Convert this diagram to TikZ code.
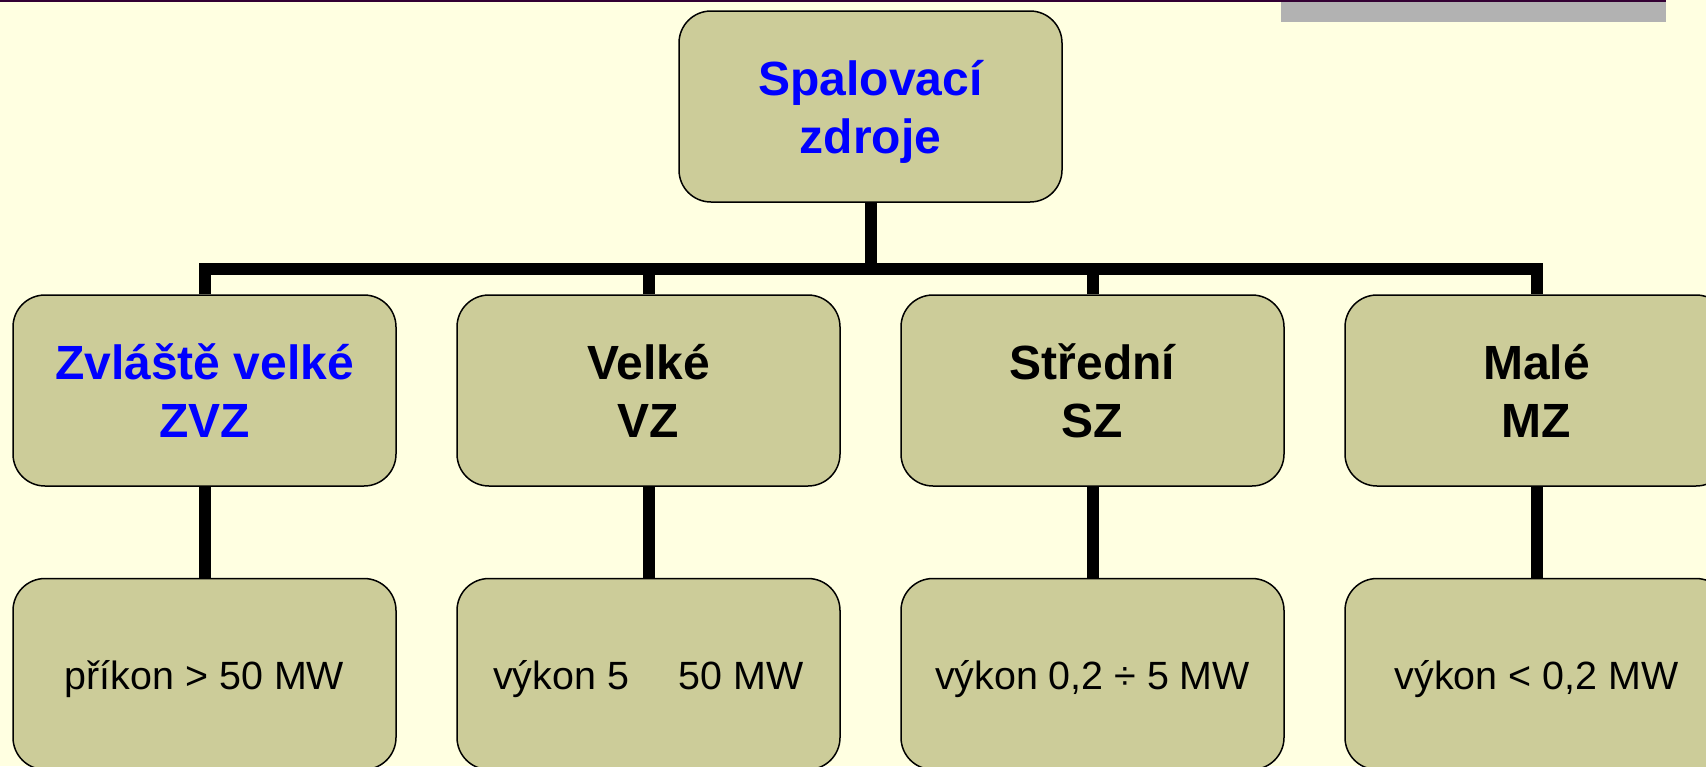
\documentclass[tikz,border=0pt]{standalone}
\usepackage{fontspec}
\setmainfont{Liberation Sans}
\definecolor{kback}{RGB}{255,255,225}
\definecolor{kfill}{RGB}{204,204,153}
\definecolor{kbar}{RGB}{51,0,51}
\definecolor{kgray}{RGB}{178,178,178}
\definecolor{kblue}{RGB}{0,0,255}
\tikzset{kbox/.style={draw=black,line width=0.75pt,fill=kfill,rounded corners=16pt,minimum width=191.5pt,minimum height=95.5pt,align=center,inner sep=0pt},
khead/.style={kbox,font=\fontsize{24}{29}\selectfont\bfseries,text height=47pt,text depth=0pt},
kval/.style={kbox,font=\fontsize{19.7}{23}\selectfont,text height=15pt,text depth=0pt},
klink/.style={line width=6pt}}
\begin{document}
\begin{tikzpicture}[x=0.5pt,y=-0.5pt]
\pgfmathsetmacro{\kxstep}{444}
\pgfmathsetmacro{\kxo}{204.5}
\fill[kback](0,0)rectangle(1706,766);
\useasboundingbox(0,0)rectangle(1706,766);
\fill[kbar](0,0)rectangle(1666,2);
\fill[kgray](1281,2)rectangle(1666,22);
\node[khead,text=kblue](top)at(870.5,106.5){Spalovací\\zdroje};
\foreach \kx/\klb/\kcol in {0/{Zvláště velké\\ZVZ}/kblue,1/{Velké\\VZ}/black,2/{Střední\\SZ}/black,3/{Malé\\MZ}/black}{\node[khead,text=\kcol](m\kx)at(\kxo+\kx*\kxstep,390.5){\klb};}
\foreach \kx/\klb in {0/{příkon > 50 MW},1/{výkon 5\hspace{1.27em}50 MW},2/{výkon 0,2 ÷ 5 MW},3/{výkon < 0,2 MW}}{\node[kval](b\kx)at(\kxo+\kx*\kxstep,674){\klb};}
\coordinate(bar)at(870.5,269);
\draw[klink](m0.north)|-(bar)-|(m3.north);
\draw[klink](top.south)--(bar);
\foreach \kx in {1,2}{\draw[klink](m\kx.north)--(m\kx.north|-bar);}
\foreach \kx in {0,...,3}{\draw[klink](m\kx)--(b\kx);}
\end{tikzpicture}
\end{document}
